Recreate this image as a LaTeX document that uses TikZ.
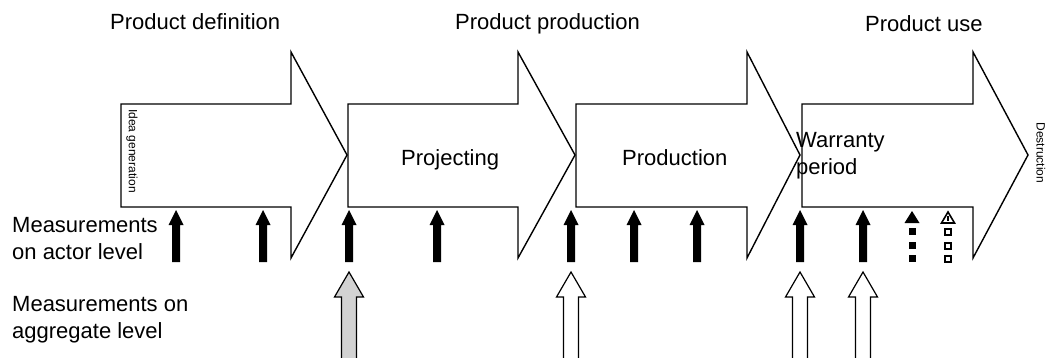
\documentclass[tikz,border=0pt]{standalone}
\usepackage{fontspec}
\setmainfont{Liberation Sans}
\begin{document}
\begin{tikzpicture}[x=1pt,y=-1pt,
  bigarrow/.style={draw=black,line width=1.4pt,line join=miter,fill=white},
  lbl/.style={inner sep=0pt,font=\fontsize{22}{27}\selectfont},
  small/.style={inner sep=0pt,font=\fontsize{12}{14}\selectfont,rotate=-90},
  actor/.style={fill=black},
  agg/.style={draw=black,line width=1.2pt,fill=white},
  aggfill/.style={agg,fill=gray!35}]
\path[use as bounding box] (0,0) rectangle (1048,358);

% phase labels
\node[lbl,anchor=base west] (pdef) at (110,30) {Product definition};
\node[lbl,anchor=base west] (pprod) at (455,30) {Product production};
\node[lbl,anchor=base west] (puse) at (865,32) {Product use};

% big process arrows
\draw[bigarrow] (121,104) -- (291,104) -- (291,52) -- (347,155) -- (291,258) -- (291,207) -- (121,207) -- cycle;
\draw[bigarrow] (348,104) -- (518,104) -- (518,52) -- (575,155) -- (518,258) -- (518,207) -- (348,207) -- cycle;
\draw[bigarrow] (576,104) -- (747,104) -- (747,52) -- (800,155) -- (747,258) -- (747,207) -- (576,207) -- cycle;
\draw[bigarrow] (802,104) -- (973,104) -- (973,52) -- (1028,155) -- (973,258) -- (973,207) -- (802,207) -- cycle;

% texts in arrows
\node[small] (idea) at (132,151) {Idea generation};
\node[lbl,anchor=base west] (proj) at (401,165) {Projecting};
\node[lbl,anchor=base west] (prodn) at (622,165) {Production};
\node[lbl,anchor=north west,align=left] (warr) at (796,132) {Warranty\\period};
\node[small] (destr) at (1041,153) {Destruction};

% row labels
\node[lbl,anchor=north west,align=left] (actlbl) at (12,217) {Measurements\\on actor level};
\node[lbl,anchor=north west,align=left] (agglbl) at (12,296) {Measurements on\\aggregate level};

% actor-level arrows
\foreach \x in {176,263,349,437,571,634,697,800,863}{
  \fill[actor] (\x,210) -- (\x+7.5,225) -- (\x+4,225) -- (\x+4,262) -- (\x-4,262) -- (\x-4,225) -- (\x-7.5,225) -- cycle;
}
% dotted (future) actor arrows
\fill[black] (912,211) -- (919.5,223) -- (904.5,223) -- cycle;
\foreach \y in {228,242,255}{
  \fill[black] (908.5,\y) rectangle (915.5,\y+7);
}
\draw[black,line width=1.6pt,fill=white] (948,212) -- (954.5,223) -- (941.5,223) -- cycle;
\draw[black,line width=1.4pt] (948,216) -- (948,221);
\foreach \y in {229,243,256}{
  \draw[black,line width=1.6pt,fill=white] (945,\y) rectangle (951,\y+6);
}

% aggregate-level arrows
\foreach \x/\s in {349/aggfill,571/agg,800/agg,863/agg}{
  \fill[\s,draw=none] (\x,272) -- (\x+14.5,297) -- (\x+7.5,297) -- (\x+7.5,358) -- (\x-7.5,358) -- (\x-7.5,297) -- (\x-14.5,297) -- cycle;
  \draw[\s,fill=none] (\x+7.5,358) -- (\x+7.5,297) -- (\x+14.5,297) -- (\x,272) -- (\x-14.5,297) -- (\x-7.5,297) -- (\x-7.5,358);
}
\end{tikzpicture}
\end{document}
